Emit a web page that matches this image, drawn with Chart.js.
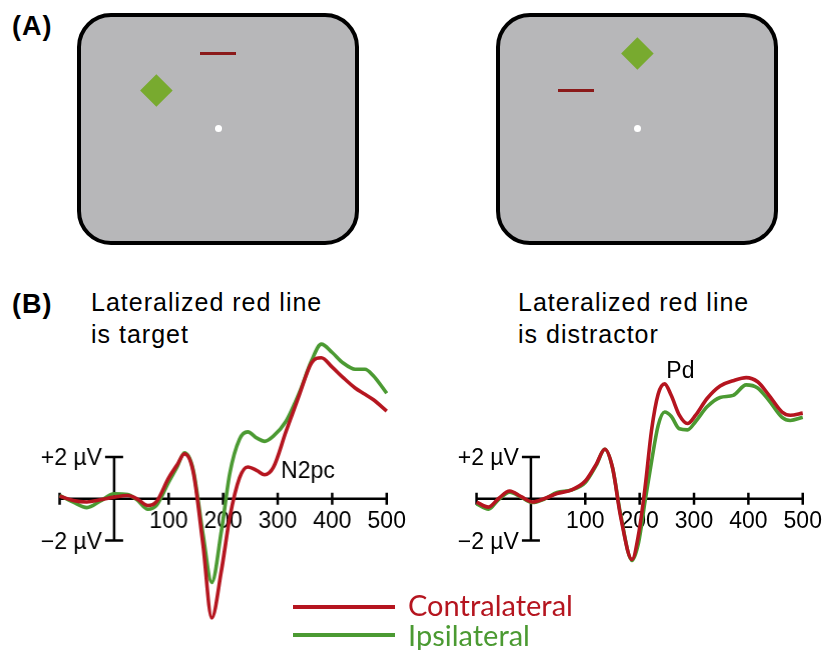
<!DOCTYPE html>
<html>
<head>
<meta charset="utf-8">
<title>Lateralized ERP waveforms</title>
<script src="https://cdn.jsdelivr.net/npm/chart.js@4"></script>
<style>
    body {
        margin: 0;
        width: 826px;
        height: 650px;
        position: relative;
        overflow: hidden;
        background: #fff;
        font-family: "Liberation Sans", Arial, sans-serif;
        color: #000;
    }
    .abs { position: absolute; }
    .screen {
        position: absolute;
        box-sizing: border-box;
        top: 13px;
        width: 282px;
        height: 232px;
        border: 4px solid #000;
        border-radius: 34px;
        background: #b7b7b9;
    }
    .diamond { position: absolute; width: 22.8px; height: 22.8px; background: #78aa2f; transform: rotate(45deg); }
    .bar { position: absolute; width: 36px; height: 3px; background: #8b1a1a; }
    .dot { position: absolute; width: 7px; height: 7px; border-radius: 50%; background: #fff; }
    .panel { font-weight: bold; font-size: 27px; line-height: 27px; letter-spacing: 1px; left: 12px; }
    .title { font-size: 25px; line-height: 31.6px; letter-spacing: 1px; white-space: nowrap; }
    .legline { position: absolute; left: 293px; width: 102px; height: 4px; }
    .legtext { position: absolute; left: 408px; font-family: Lato, "Open Sans", sans-serif; font-size: 29px; line-height: 29px; white-space: nowrap; }
</style>
</head>
<body>
    <!-- (A) stimulus displays -->
    <div class="abs panel" style="top:12.5px;">(A)</div>
    <div class="screen" style="left:77px;"></div>
    <div class="bar" style="left:200px; top:52px;"></div>
    <div class="diamond" style="left:144.8px; top:78.9px;"></div>
    <div class="dot" style="left:214.5px; top:125.2px;"></div>

    <div class="screen" style="left:496px;"></div>
    <div class="diamond" style="left:626.4px; top:42.4px;"></div>
    <div class="bar" style="left:558px; top:89.2px;"></div>
    <div class="dot" style="left:633.5px; top:125.2px;"></div>

    <!-- (B) waveforms -->
    <div class="abs panel" style="top:290.5px;">(B)</div>
    <div class="abs title" style="left:91px; top:287px;">Lateralized red line<br>is target</div>
    <div class="abs title" style="left:518px; top:287px;">Lateralized red line<br>is distractor</div>

    <div class="abs" id="targetBox"><canvas id="targetChart"></canvas></div>
    <div class="abs" id="distractorBox"><canvas id="distractorChart"></canvas></div>

    <!-- legend -->
    <div class="legline" style="top:605.3px; background:#b5151f;"></div>
    <div class="legline" style="top:633px; background:#4b9a32;"></div>
    <div class="legtext" style="top:590px; color:#b5151f;">Contralateral</div>
    <div class="legtext" style="top:620px; color:#4b9a32;">Ipsilateral</div>

<script>
// Series names
const seriesNames = ["Contralateral", "Ipsilateral"];
const seriesColors = ["#b5151f", "#4b9a32"];

// Axis ticks (ms, µV)
const timeTicks = [-100, 100, 200, 300, 400, 500];
const voltTicks = [2, -2];
const voltLabels = ["+2 \u00b5V", "\u22122 \u00b5V"];

// Red line is target
const targetTimes = [-100, -75, -50, -25, 0, 25, 42, 62, 78, 100, 115, 129, 145, 163, 179, 197, 212, 230, 245, 262, 276, 292, 315, 340, 362, 380, 400, 420, 442, 460, 475, 500];
const targetContra = [0.13, -0.08, -0.15, -0.05, 0.08, 0.16, 0.0, -0.32, -0.12, 1.0, 1.6, 2.15, 1.3, -2.2, -5.7, -3.4, -0.9, 1.0, 1.52, 1.35, 1.15, 1.5, 3.2, 5.0, 6.5, 6.75, 6.3, 5.8, 5.3, 5.0, 4.75, 4.2];
const targetIpsi = [0.16, -0.16, -0.42, -0.1, 0.24, 0.2, -0.05, -0.5, -0.3, 0.8, 1.5, 2.2, 1.4, -1.7, -4.0, -1.5, 1.2, 2.85, 3.2, 2.9, 2.75, 3.0, 3.7, 5.1, 6.6, 7.4, 7.0, 6.5, 6.2, 6.2, 5.9, 5.05];

// Red line is distractor
const distractorTimes = [-100, -78, -60, -39, -18, 3, 24, 48, 75, 100, 120, 136, 150, 165, 186, 198, 210, 222, 234, 246, 258, 273, 288, 303, 324, 348, 372, 396, 417, 438, 462, 477, 500];
const distractorContra = [-0.16, -0.4, 0.0, 0.37, 0.1, -0.15, 0.0, 0.25, 0.43, 0.85, 1.65, 2.37, 1.5, -0.85, -2.9, -1.7, 0.55, 3.3, 5.0, 5.5, 4.95, 4.0, 3.6, 4.0, 4.8, 5.4, 5.65, 5.8, 5.6, 4.95, 4.15, 4.0, 4.1];
const distractorIpsi = [-0.24, -0.5, -0.05, 0.32, 0.08, -0.18, -0.02, 0.3, 0.42, 0.78, 1.6, 2.37, 1.5, -0.75, -2.95, -2.1, -0.1, 1.8, 3.5, 4.15, 3.95, 3.35, 3.3, 3.7, 4.4, 4.85, 4.95, 5.45, 5.3, 4.7, 3.9, 3.75, 3.9];

document.addEventListener("DOMContentLoaded", function () {
    // shared scale geometry
    const xRange = [-140, 540];
    const yRange = [-8, 10];
    const pxPerMs = 0.549;
    const pxPerUV = 21.1;
    const baseline = 498.5;

    // scale-bar axes drawn under the waves
    const erpAxes = {
        id: "erpAxes",
        beforeDatasetsDraw(chart, args, opts) {
            const ctx = chart.ctx;
            const xs = chart.scales.x;
            const ys = chart.scales.y;
            const y0 = ys.getPixelForValue(0);
            const xz = xs.getPixelForValue(0);

            ctx.save();
            ctx.strokeStyle = "#000";
            ctx.lineWidth = 2.5;
            ctx.beginPath();
            ctx.moveTo(xs.getPixelForValue(timeTicks[0]), y0);
            ctx.lineTo(xs.getPixelForValue(timeTicks[timeTicks.length - 1]), y0);
            timeTicks.forEach(function (t) {
                const x = xs.getPixelForValue(t);
                ctx.moveTo(x, y0 - 6);
                ctx.lineTo(x, y0 + 6);
            });
            ctx.moveTo(xz, ys.getPixelForValue(voltTicks[0]));
            ctx.lineTo(xz, ys.getPixelForValue(voltTicks[1]));
            voltTicks.forEach(function (v) {
                const y = ys.getPixelForValue(v);
                ctx.moveTo(xz - 9, y);
                ctx.lineTo(xz + 9, y);
            });
            ctx.stroke();

            ctx.fillStyle = "#000";
            ctx.font = '23px "Liberation Sans", Arial, sans-serif';
            ctx.textBaseline = "alphabetic";
            ctx.textAlign = "center";
            timeTicks.forEach(function (t) {
                if (t > 0) ctx.fillText(String(t), xs.getPixelForValue(t), y0 + 29);
            });
            ctx.textAlign = "right";
            voltTicks.forEach(function (v, i) {
                ctx.fillText(voltLabels[i], xz - 12, ys.getPixelForValue(v) + 8);
            });

            // component label
            ctx.textAlign = "left";
            ctx.fillText(opts.text, xs.getPixelForValue(opts.at[0]), ys.getPixelForValue(opts.at[1]));
            ctx.restore();
        }
    };

    function makeChart(canvasId, boxId, zeroX, times, contra, ipsi, note) {
        // place the box so that t=0 / 0 µV land where they should
        const box = document.getElementById(boxId);
        box.style.left = (zeroX + xRange[0] * pxPerMs) + "px";
        box.style.width = ((xRange[1] - xRange[0]) * pxPerMs) + "px";
        box.style.top = (baseline - yRange[1] * pxPerUV) + "px";
        box.style.height = ((yRange[1] - yRange[0]) * pxPerUV) + "px";

        const waves = [contra, ipsi].map(function (vals, i) {
            return {
                label: seriesNames[i],
                data: times.map(function (t, j) { return { x: t, y: vals[j] }; }),
                borderColor: seriesColors[i],
                borderWidth: 3.6,
                pointRadius: 0,
                fill: false,
                cubicInterpolationMode: "monotone"
            };
        });

        return new Chart(document.getElementById(canvasId), {
            type: "line",
            data: { datasets: waves },
            options: {
                responsive: true,
                maintainAspectRatio: false,
                animation: false,
                events: [],
                layout: { padding: 0 },
                plugins: {
                    legend: { display: false },
                    tooltip: { enabled: false },
                    erpAxes: note
                },
                scales: {
                    x: { type: "linear", min: xRange[0], max: xRange[1], display: false },
                    y: { min: yRange[0], max: yRange[1], display: false }
                }
            },
            plugins: [erpAxes]
        });
    }

    makeChart("targetChart", "targetBox", 113.3, targetTimes, targetContra, targetIpsi,
        { text: "N2pc", at: [306, 1.0] });
    makeChart("distractorChart", "distractorBox", 530, distractorTimes, distractorContra, distractorIpsi,
        { text: "Pd", at: [249, 5.77] });
});
</script>
</body>
</html>
